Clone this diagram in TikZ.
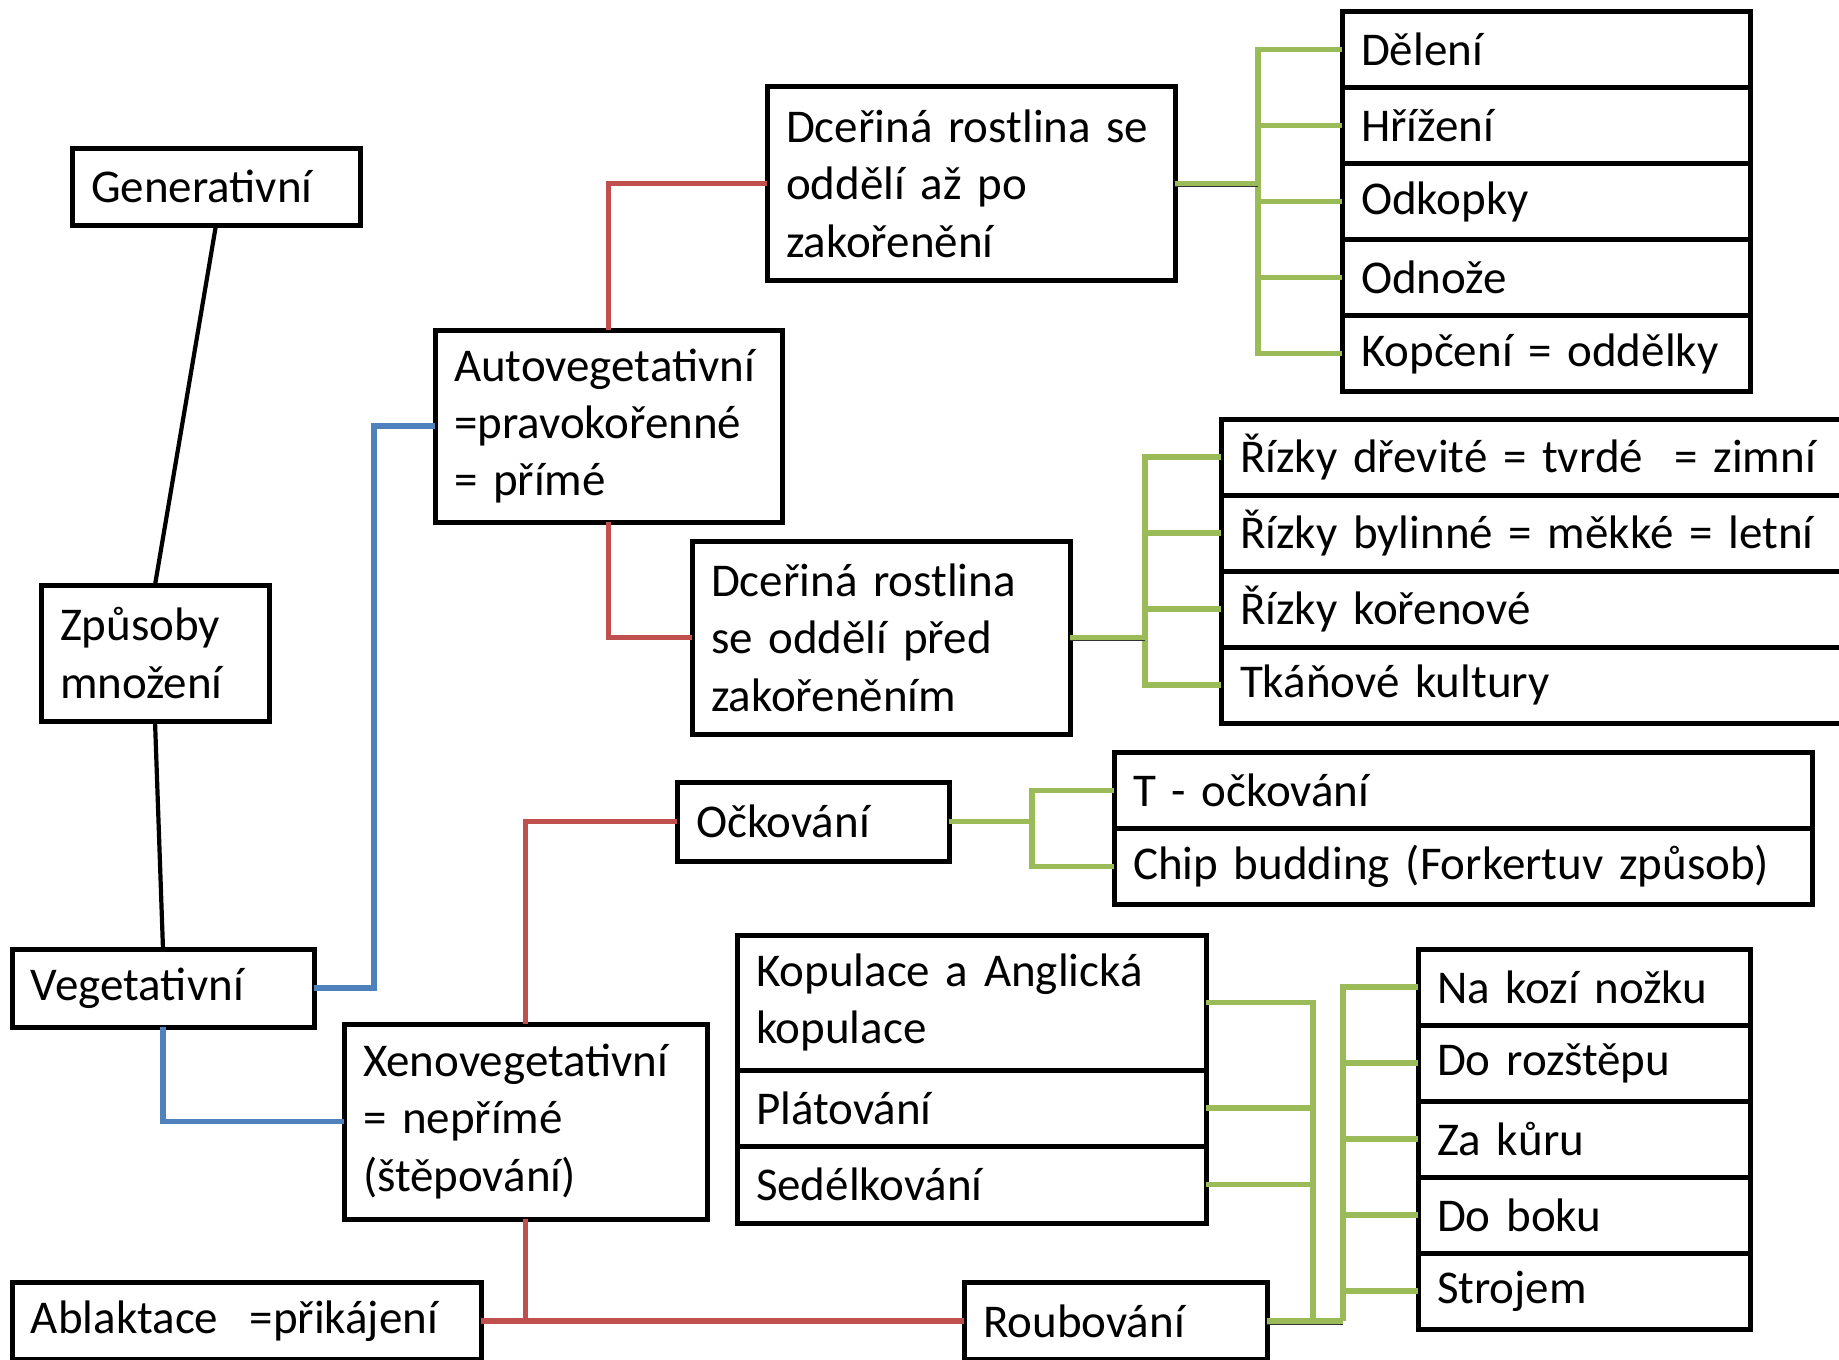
\documentclass[tikz,border=0pt]{standalone}
\usepackage{fontspec}
\setmainfont{Carlito}
\usepackage{tikz}
\definecolor{redline}{HTML}{C0504D}
\definecolor{blueline}{HTML}{4F81BD}
\definecolor{greenline}{HTML}{9BBB59}
\tikzstyle{box}=[draw, line width=2.5pt, outer sep=0pt, inner xsep=9.5pt, inner ysep=0pt, align=left, fill=white, font=\fontsize{23.5}{28.7}\selectfont]
\tikzstyle{link}=[line width=2.7pt]
\tikzstyle{bk}=[link, draw=black, line width=2.1pt]
\tikzstyle{bl}=[link, draw=blueline]
\tikzstyle{rd}=[link, draw=redline]
\tikzstyle{gr}=[link, draw=greenline]
\tikzstyle{stub}=[gr, preaction={draw=black!80, transform canvas={yshift=-1.5pt}}]

\begin{document}
\begin{tikzpicture}[x=1pt, y=-1pt]
	\useasboundingbox (0,0) rectangle (919.5,679.5);
	% left column
	\draw (108,93.25) node[box, text width=125pt, minimum height=38.5pt] (gen) {Generativní};
	\draw (77.5,326.5) node[box, text width=95pt, minimum height=68pt] (zp) {Způsoby\\množení};
	\draw (81.5,494) node[box, text width=132pt, minimum height=39pt] (veg) {Vegetativní};
	\draw (304.25,213) node[box, text width=154.5pt, minimum height=96pt] (auto) {Autovegetativní\\=pravokořenné\\= přímé};
	\draw (262.75,560.75) node[box, text width=162.5pt, minimum height=97.5pt] (xeno) {Xenovegetativní\\= nepřímé\\(štěpování)};
	\draw (123.25,660.5) node[box, text width=215.5pt, minimum height=38.5pt] (abl) {Ablaktace \ =přikájení};
	%
	\draw (485.5,91.75) node[box, text width=185pt, minimum height=96.5pt] (d1) {Dceřiná rostlina se\\oddělí až po\\zakořenění};
	\draw (440.5,318.75) node[box, text width=170pt, minimum height=96.5pt] (d2) {Dceřiná rostlina\\se oddělí před\\zakořeněním};
	\draw (406.5,410.75) node[box, text width=117pt, minimum height=39.5pt] (ock) {Očkování};
	\draw (557.75,660.5) node[box, text width=132.5pt, minimum height=38.5pt] (roub) {Roubování};
	% rows after d1
	\draw (773,24.75) node[box, text width=185pt, minimum height=38pt] (a1) {Dělení};
	\draw (773,62.75) node[box, text width=185pt, minimum height=38pt] (a2) {Hřížení};
	\draw (773,100.75) node[box, text width=185pt, minimum height=38pt] (a3) {Odkopky};
	\draw (773,138.75) node[box, text width=185pt, minimum height=38pt] (a4) {Odnože};
	\draw (773,176.75) node[box, text width=185pt, minimum height=38pt] (a5) {Kopčení = oddělky};
	% rows after d2
	\draw (775.5,228.5) node[box, text width=311pt, minimum height=38pt] (b1) {Řízky dřevité = tvrdé \ = zimní};
	\draw (775.5,266.5) node[box, text width=311pt, minimum height=38pt] (b2) {Řízky bylinné = měkké = letní};
	\draw (775.5,304.5) node[box, text width=311pt, minimum height=38pt] (b3) {Řízky kořenové};
	\draw (775.5,342.5) node[box, text width=311pt, minimum height=38pt] (b4) {Tkáňové kultury};
	% rows after ock
	\draw (731.5,395.25) node[box, text width=330pt, minimum height=38pt] (c1) {T - očkování};
	\draw (731.5,433.25) node[box, text width=330pt, minimum height=38pt] (c2) {Chip budding (Forkertuv způsob)};
	% rows after roub
	\draw (485.75,501.25) node[box, text width=215.5pt, minimum height=67.5pt] (k1) {Kopulace a Anglická\\kopulace};
	\draw (485.75,554) node[box, text width=215.5pt, minimum height=38pt] (k2) {Plátování};
	\draw (485.75,592.25) node[box, text width=215.5pt, minimum height=38.5pt] (k3) {Sedélkování};
	\draw (792,493.5) node[box, text width=147pt, minimum height=38pt] (e1) {Na kozí nožku};
	\draw (792,531.5) node[box, text width=147pt, minimum height=38pt] (e2) {Do rozštěpu};
	\draw (792,569.5) node[box, text width=147pt, minimum height=38pt] (e3) {Za kůru};
	\draw (792,607.5) node[box, text width=147pt, minimum height=38pt] (e4) {Do boku};
	\draw (792,645.5) node[box, text width=147pt, minimum height=38pt] (e5) {Strojem};
	%
	\draw[bk] (gen.south) -- (zp.north);
	\draw[bk] (zp.south) -- (veg.north);
	\draw[bl] (veg.east) -- (187,494) |- (auto.west);
	\draw[bl] (veg.south) |- (xeno.west);
	\draw[rd] (auto.north) |- (d1.west);
	\draw[rd] (auto.south) |- (d2.west);
	\draw[rd] (xeno.north) |- (ock.west);
	\draw[rd] (xeno.south) -- (xeno.south |- abl.east);
	\draw[rd] (abl.east) -- (roub.west);
	%
	\coordinate (j1) at (629,91.75);
	\draw[gr] (j1) |- (a1.west);
	\draw[gr] (j1) |- (a2.west);
	\draw[gr] (j1) |- (a3.west);
	\draw[gr] (j1) |- (a4.west);
	\draw[gr] (j1) |- (a5.west);
	\draw[stub] (d1.east) -- (j1);
	%
	\coordinate (j2) at (572.5,318.75);
	\draw[gr] (j2) |- (b1.west);
	\draw[gr] (j2) |- (b2.west);
	\draw[gr] (j2) |- (b3.west);
	\draw[gr] (j2) |- (b4.west);
	\draw[stub] (d2.east) -- (j2);
	%
	\coordinate (j3) at (516,410.75);
	\draw[gr] (j3) |- (c1.west);
	\draw[gr] (j3) |- (c2.west);
	\draw[gr] (ock.east) -- (j3);
	%
	\coordinate (j4) at (656.5,660.5);
	\coordinate (j5) at (671.5,660.5);
	\draw[gr] (j4) |- (k1.east);
	\draw[gr] (j4) |- (k2.east);
	\draw[gr] (j4) |- (k3.east);
	\draw[gr] (j5) |- (e1.west);
	\draw[gr] (j5) |- (e2.west);
	\draw[gr] (j5) |- (e3.west);
	\draw[gr] (j5) |- (e4.west);
	\draw[gr] (j5) |- (e5.west);
	\draw[stub] (roub.east) -- (j5);
\end{tikzpicture}
\end{document}
